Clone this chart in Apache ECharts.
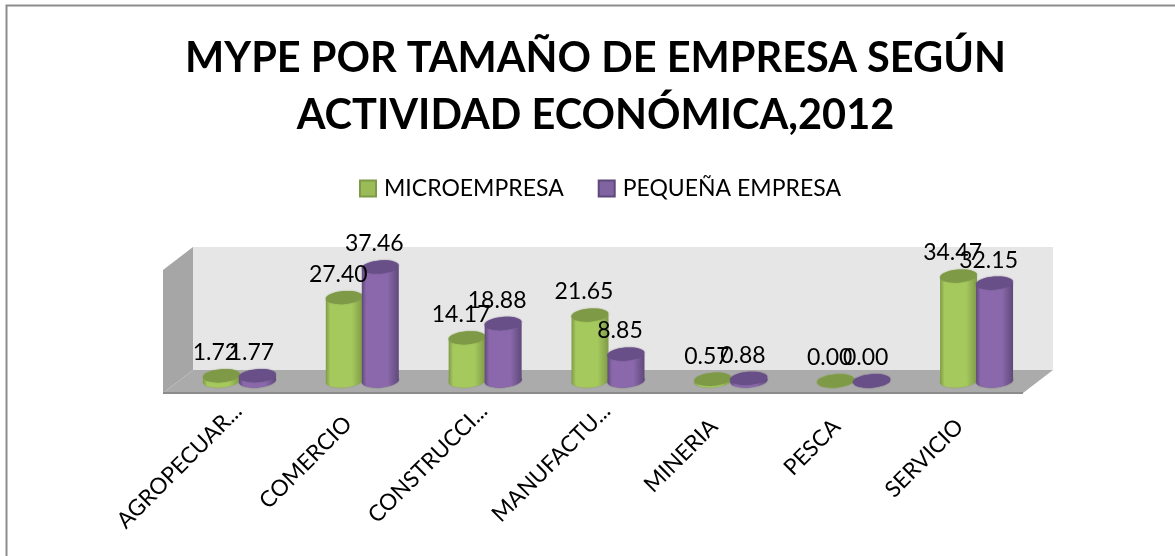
<!DOCTYPE html>
<html>
<head>
<meta charset="utf-8">
<style>
html, body { margin: 0; padding: 0; background: #fff; }
#chart { width: 1175px; height: 556px; }
</style>
<script src="https://cdn.jsdelivr.net/npm/echarts@6/dist/echarts.min.js"></script>
</head>
<body>
<div id="chart"></div>
<script>
const categories = ['AGROPECUAR...', 'COMERCIO', 'CONSTRUCCI...', 'MANUFACTU...', 'MINERIA', 'PESCA', 'SERVICIO'];
const microempresa = [1.72, 27.40, 14.17, 21.65, 0.57, 0.00, 34.47];
const pequenaEmpresa = [1.77, 37.46, 18.88, 8.85, 0.88, 0.00, 32.15];

const FONT = 'Lato, "Open Sans", sans-serif';
const BAR_W = 37;
const RY = 6.5;
const TILT = 0.08;

const chart = echarts.init(document.getElementById('chart'), null, {renderer: 'canvas'});

function bodyGradient(dark, light) {
    return new echarts.graphic.LinearGradient(0, 0, 1, 0, [
        {offset: 0, color: dark},
        {offset: 0.12, color: light},
        {offset: 0.7, color: light},
        {offset: 1, color: dark}
    ]);
}

// one cylinder, the offset moves it left or right of the category centre
function cylinder(name, offset, dark, light, top) {
    return {
        name: name,
        type: 'custom',
        z: 5,
        data: [],
        renderItem: function (params, api) {
            const base = api.coord([api.value(0), 0]);
            const head = api.coord([api.value(0), api.value(1)]);
            const cx = base[0] + offset;
            const rx = BAR_W / 2;
            const fill = bodyGradient(dark, light);
            const blur = {shadowBlur: 1.5, shadowColor: dark};
            const ellipse = (y, color) => ({
                type: 'ellipse',
                x: cx,
                y: y,
                rotation: TILT,
                shape: {cx: 0, cy: 0, rx: rx, ry: RY},
                style: Object.assign({fill: color}, blur)
            });
            return {
                type: 'group',
                children: [
                    ellipse(base[1], fill),
                    {
                        type: 'rect',
                        shape: {x: cx - rx, y: head[1], width: BAR_W, height: base[1] - head[1]},
                        style: {fill: fill}
                    },
                    ellipse(head[1], top),
                    {
                        type: 'text',
                        x: cx - 6,
                        y: head[1] - 23,
                        style: {
                            text: api.value(1).toFixed(2),
                            font: '23px ' + FONT,
                            fill: '#000',
                            align: 'center',
                            verticalAlign: 'middle'
                        },
                        z2: 20
                    }
                ]
            };
        }
    };
}

// grey floor and side wall around the plot area, taken from the grid rectangle
const walls = {
    type: 'custom',
    silent: true,
    z: 1,
    data: [[0, 0]],
    legendHoverLink: false,
    renderItem: function (params) {
        const c = params.coordSys;
        const l = c.x + 15, r = c.x + c.width + 15, t = c.y, b = c.y + c.height - 11;
        const dx = 30, dy = 23;
        return {
            type: 'group',
            children: [
                {type: 'rect', shape: {x: l, y: t, width: r - l, height: b - t}, style: {fill: '#e6e6e6'}},
                {type: 'polygon', shape: {points: [[l, t], [l - dx, t + dy], [l - dx, b + dy], [l, b]]}, style: {fill: '#a6a6a6'}},
                {type: 'polygon', shape: {points: [[l, b], [r, b], [r - dx, b + dy], [l - dx, b + dy]]}, style: {fill: '#ababab'}},
                {type: 'rect', shape: {x: l - dx, y: b + dy - 1, width: r - l, height: 2}, style: {fill: '#8c8c8c'}}
            ]
        };
    }
};

const micro = cylinder('MICROEMPRESA', -18, '#7f9a48', '#a5c95d', '#7e9a47');
micro.data = microempresa.map((v, i) => [i, v]);
const peq = cylinder('PEQUEÑA EMPRESA', 18, '#5f497a', '#8a68ab', '#684f88');
peq.data = pequenaEmpresa.map((v, i) => [i, v]);

// shorter labels stop further from the category centre than the cut ones
const labelStyle = {fontFamily: FONT, fontSize: 22.5, color: '#000'};
const labelGap = {COMERCIO: 'b', MINERIA: 'c', PESCA: 'c', SERVICIO: 'c'};

chart.setOption({
    backgroundColor: '#fff',
    animation: false,
    title: {
        text: 'MYPE POR TAMAÑO DE EMPRESA SEGÚN\nACTIVIDAD ECONÓMICA,2012',
        left: 590.5,
        top: 25,
        textAlign: 'center',
        textStyle: {fontFamily: FONT, fontSize: 41.5, fontWeight: 'bold', color: '#000', lineHeight: 57}
    },
    legend: {
        top: 172,
        left: 354,
        itemWidth: 16,
        itemHeight: 16,
        itemGap: 34,
        icon: 'rect',
        textStyle: {fontFamily: FONT, fontSize: 23, color: '#000', padding: [0, 0, 0, 3]},
        data: [
            {name: 'MICROEMPRESA', itemStyle: {color: '#9bbb59', borderColor: '#7f9a48', borderWidth: 2}},
            {name: 'PEQUEÑA EMPRESA', itemStyle: {color: '#8064a2', borderColor: '#5f497a', borderWidth: 2}}
        ]
    },
    grid: {left: 178, right: 137, top: 247, height: 134},
    xAxis: {
        type: 'category',
        data: categories,
        axisLine: {show: false},
        axisTick: {show: false},
        axisLabel: {
            rotate: 45,
            interval: 0,
            margin: 25,
            formatter: function (value) {
                return '{' + (labelGap[value] || 'a') + '|' + value + '}';
            },
            rich: {
                a: Object.assign({padding: [0, 2, 0, 0]}, labelStyle),
                b: Object.assign({padding: [0, 20, 0, 0]}, labelStyle),
                c: Object.assign({padding: [0, 24, 0, 0]}, labelStyle)
            }
        }
    },
    yAxis: {type: 'value', min: 0, max: 44, show: false, splitLine: {show: false}},
    graphic: [{
        type: 'polyline',
        silent: true,
        shape: {points: [[6.5, 556], [6.5, 5.5], [1175, 5.5]]},
        style: {stroke: '#8c8c8c', lineWidth: 2, fill: null}
    }],
    series: [walls, micro, peq]
});
</script>
</body>
</html>
